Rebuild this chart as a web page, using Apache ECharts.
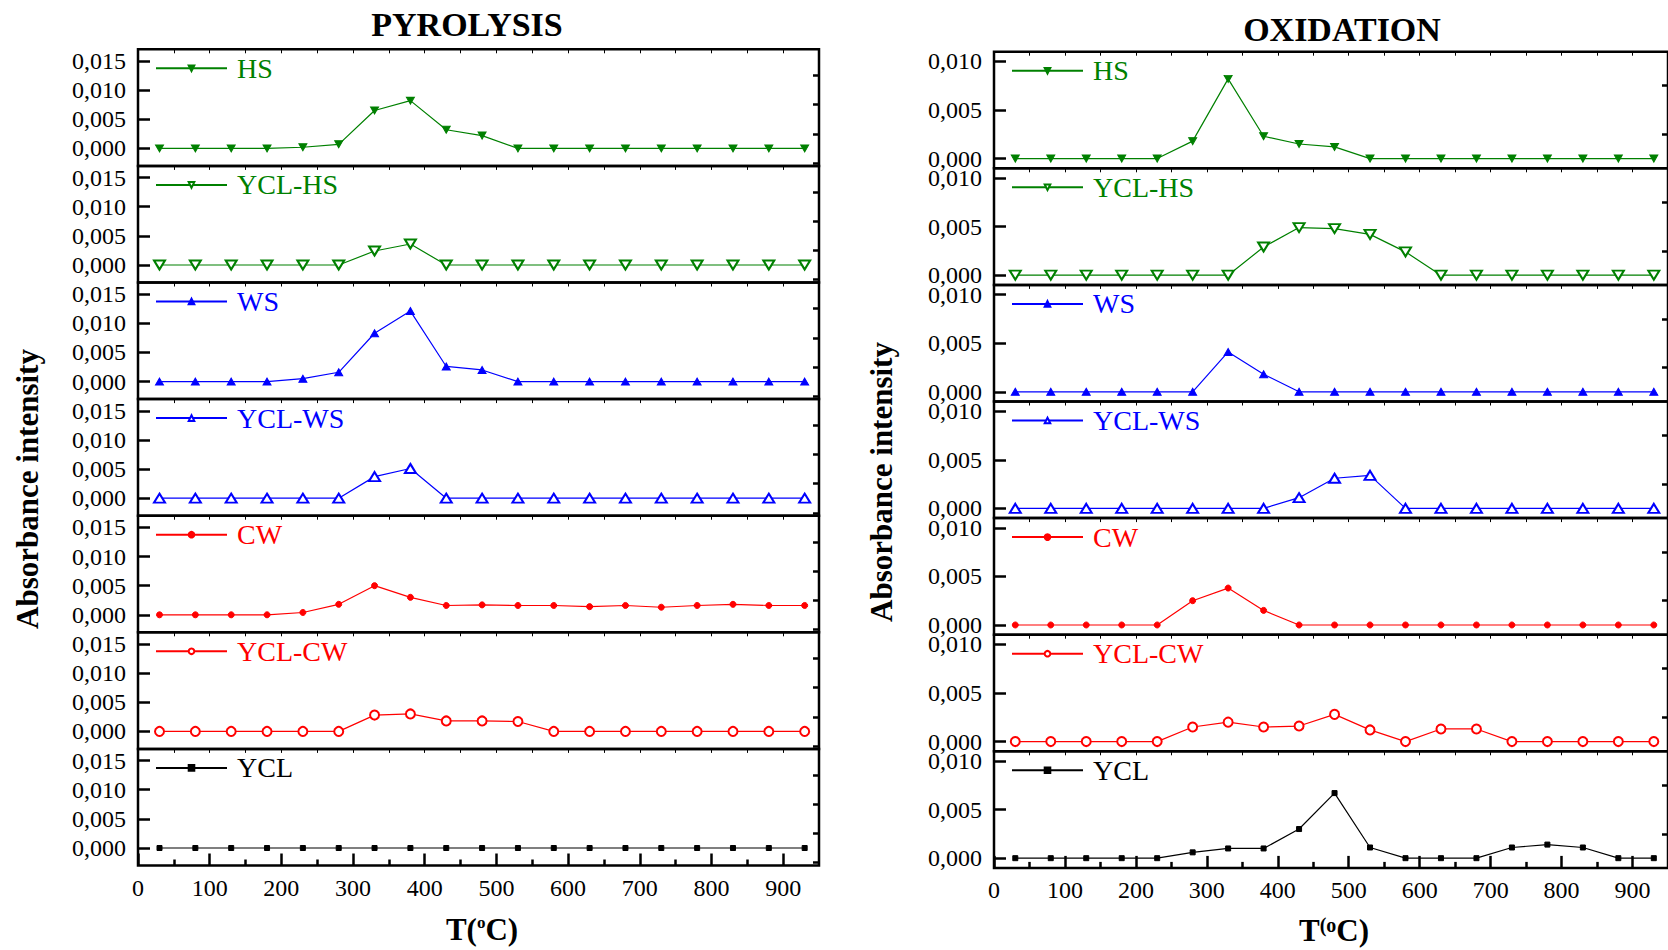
<!DOCTYPE html>
<html>
<head>
<meta charset="utf-8">
<title>Absorbance intensity - pyrolysis / oxidation</title>
<script src="https://cdn.jsdelivr.net/npm/echarts@6/dist/echarts.min.js"></script>
<style>
  html, body { margin: 0; padding: 0; background: #fff; }
  #chart { width: 1668px; height: 950px; }
</style>
</head>
<body>
<div id="chart"></div>
<script>
// temperatures (°C), same for every panel
const temps = [30, 80, 130, 180, 230, 280, 330, 380, 430, 480, 530, 580, 630, 680, 730, 780, 830, 880, 930]
const xLabelValues = [0, 100, 200, 300, 400, 500, 600, 700, 800, 900]
const pyroYLabels = [0, 0.005, 0.010, 0.015]
const oxiYLabels = [0, 0.005, 0.010]

// PYROLYSIS
const pyroHS = [0, 0, 0, 0, 0.0002, 0.0007, 0.0065, 0.0082, 0.0032, 0.0022, 0, 0, 0, 0, 0, 0, 0, 0, 0]
const pyroYclHS = [0, 0, 0, 0, 0, 0, 0.0024, 0.0036, 0, 0, 0, 0, 0, 0, 0, 0, 0, 0, 0]
const pyroWS = [0, 0, 0, 0, 0.0005, 0.0016, 0.0083, 0.0121, 0.0026, 0.0020, 0, 0, 0, 0, 0, 0, 0, 0, 0]
const pyroYclWS = [0, 0, 0, 0, 0, 0, 0.0037, 0.0051, 0, 0, 0, 0, 0, 0, 0, 0, 0, 0, 0]
const pyroCW = [0, 0, 0, 0, 0.0004, 0.0018, 0.0050, 0.0030, 0.0016, 0.0017, 0.0016, 0.0016, 0.0014, 0.0016, 0.0013, 0.0016, 0.0018, 0.0016, 0.0016]
const pyroYclCW = [0, 0, 0, 0, 0, 0, 0.0028, 0.0030, 0.0018, 0.0018, 0.0017, 0, 0, 0, 0, 0, 0, 0, 0]
const pyroYCL = [0, 0, 0, 0, 0, 0, 0, 0, 0, 0, 0, 0, 0, 0, 0, 0, 0, 0, 0]

// OXIDATION
const oxiHS = [0, 0, 0, 0, 0, 0.0018, 0.0082, 0.0023, 0.0015, 0.0012, 0, 0, 0, 0, 0, 0, 0, 0, 0]
const oxiYclHS = [0, 0, 0, 0, 0, 0, 0, 0.0029, 0.0049, 0.0048, 0.0042, 0.0024, 0, 0, 0, 0, 0, 0, 0]
const oxiWS = [0, 0, 0, 0, 0, 0, 0.0041, 0.0018, 0, 0, 0, 0, 0, 0, 0, 0, 0, 0, 0]
const oxiYclWS = [0, 0, 0, 0, 0, 0, 0, 0, 0.0011, 0.0031, 0.0034, 0, 0, 0, 0, 0, 0, 0, 0]
const oxiCW = [0, 0, 0, 0, 0, 0.0025, 0.0038, 0.0015, 0, 0, 0, 0, 0, 0, 0, 0, 0, 0, 0]
const oxiYclCW = [0, 0, 0, 0, 0, 0.0015, 0.0020, 0.0015, 0.0016, 0.0028, 0.0012, 0, 0.0013, 0.0013, 0, 0, 0, 0, 0]
const oxiYCL = [0, 0, 0, 0, 0, 0.0006, 0.0010, 0.0010, 0.0030, 0.0067, 0.0011, 0, 0, 0, 0.0011, 0.0014, 0.0011, 0, 0]

const panelNames = ['HS', 'YCL-HS', 'WS', 'YCL-WS', 'CW', 'YCL-CW', 'YCL']

// styles per panel
const panelColors = ['#008000', '#008000', '#0000ff', '#0000ff', '#ff0000', '#ff0000', '#000000']
const panelSymbols = ['triangle', 'emptyTriangle', 'triangle', 'emptyTriangle', 'circle', 'emptyCircle', 'rect']
const panelRotate = [180, 180, 0, 0, 0, 0, 0]
const panelSymbolSize = [[8, 7], [11, 9], [8, 7], [11, 9], 6, 9, 5]

const serif = '"Liberation Serif", "Times New Roman", serif'
const panelH = 116.6

const blocks = [
  {
    left: 138, width: 681, top: 49.3, min: -0.003, max: 0.017,
    labels: pyroYLabels, minor: [-0.0025, 0.0025, 0.0075, 0.0125],
    data: [pyroHS, pyroYclHS, pyroWS, pyroYclWS, pyroCW, pyroYclCW, pyroYCL]
  },
  {
    left: 994, width: 682, top: 51.7, min: -0.001, max: 0.011,
    labels: oxiYLabels, minor: [0.0025, 0.0075],
    data: [oxiHS, oxiYclHS, oxiWS, oxiYclWS, oxiCW, oxiYclCW, oxiYCL]
  }
]

const grid = []
const xAxis = []
const yAxis = []
const series = []
const legend = []

blocks.forEach((b) => {
  panelNames.forEach((name, p) => {
    const g = grid.length
    const top = b.top + p * panelH
    grid.push({
      left: b.left, width: b.width, top: top, height: panelH,
      show: true, borderColor: '#000', borderWidth: 2.5, backgroundColor: 'transparent'
    })
    // small ticks along the top edge of every panel
    const xi = xAxis.length
    xAxis.push({
      gridIndex: g, type: 'value', position: 'top', min: 0, max: 950,
      axisLine: { show: false, onZero: false }, splitLine: { show: false }, axisLabel: { show: false },
      axisTick: { inside: true, length: 4, customValues: temps.map((t) => t + 20), lineStyle: { color: '#000', width: 1 } }
    })
    if (p === panelNames.length - 1) {
      // minor ticks first so the major ones sit on top
      xAxis.push({
        gridIndex: g, type: 'value', position: 'bottom', min: 0, max: 950,
        axisLine: { show: false, onZero: false }, splitLine: { show: false }, axisLabel: { show: false },
        axisTick: { inside: true, length: 6, customValues: xLabelValues.slice(0, 9).map((v) => v + 50), lineStyle: { color: '#000', width: 2.5 } }
      })
      xAxis.push({
        gridIndex: g, type: 'value', position: 'bottom', min: 0, max: 950,
        axisLine: { show: false, onZero: false }, splitLine: { show: false },
        axisTick: { inside: true, length: 12, customValues: xLabelValues, lineStyle: { color: '#000', width: 2.5 } },
        axisLabel: { customValues: xLabelValues, margin: 10, color: '#000', fontFamily: serif, fontSize: 24 }
      })
    }
    const yi = yAxis.length
    yAxis.push({
      gridIndex: g, type: 'value', min: b.min, max: b.max,
      axisLine: { show: false, onZero: false }, splitLine: { show: false },
      axisTick: { inside: true, length: 12, customValues: b.labels, lineStyle: { color: '#000', width: 2.5 } },
      axisLabel: {
        customValues: b.labels, margin: 12, color: '#000', fontFamily: serif, fontSize: 24,
        formatter: (v) => v.toFixed(3).replace('.', ',')
      }
    })
    yAxis.push({
      gridIndex: g, type: 'value', min: b.min, max: b.max,
      axisLine: { show: false, onZero: false }, splitLine: { show: false }, axisLabel: { show: false },
      axisTick: { inside: true, length: 6, customValues: b.minor, lineStyle: { color: '#000', width: 2.5 } }
    })
    const c = panelColors[p]
    series.push({
      type: 'line', name: name, xAxisIndex: xi, yAxisIndex: yi,
      data: temps.map((t, i) => [t, b.data[p][i]]),
      symbol: panelSymbols[p], symbolSize: panelSymbolSize[p], symbolRotate: panelRotate[p],
      itemStyle: { color: c, borderColor: c, borderWidth: 1 },
      lineStyle: { color: c, width: 1.2 },
      animation: false
    })
    legend.push({
      data: [name], left: b.left + 17, top: top + 5, padding: 0,
      itemWidth: 71, itemHeight: 7, selectedMode: false,
      textStyle: { color: c, fontFamily: serif, fontSize: 28, padding: [0, 0, 0, 5] }
    })
  })
})

const chartBox = echarts.init(document.getElementById('chart'), null, { renderer: 'svg' })
const option = {
  backgroundColor: '#fff',
  animation: false,
  title: [
    { text: 'PYROLYSIS', left: 467, top: 7, padding: 0, textAlign: 'center',
      textStyle: { fontFamily: serif, fontWeight: 'bold', fontSize: 34, color: '#000' } },
    { text: 'OXIDATION', left: 1342, top: 12, padding: 0, textAlign: 'center',
      textStyle: { fontFamily: serif, fontWeight: 'bold', fontSize: 34, color: '#000' } },
    { text: 'T({sup|o}C)', left: 482, top: 914, padding: 0, textAlign: 'center',
      textStyle: { fontFamily: serif, fontWeight: 'bold', fontSize: 31, color: '#000',
        rich: { sup: { fontFamily: serif, fontWeight: 'bold', fontSize: 17, verticalAlign: 'top', color: '#000' } } } },
    { text: 'T{sup|(o}C)', left: 1334, top: 915, padding: 0, textAlign: 'center',
      textStyle: { fontFamily: serif, fontWeight: 'bold', fontSize: 31, color: '#000',
        rich: { sup: { fontFamily: serif, fontWeight: 'bold', fontSize: 20, verticalAlign: 'top', color: '#000' } } } }
  ],
  graphic: [
    { type: 'text', x: 27, y: 489, rotation: Math.PI / 2,
      style: { text: 'Absorbance intensity', fill: '#000', fontFamily: serif, fontWeight: 'bold', fontSize: 31,
        align: 'center', verticalAlign: 'middle', textAlign: 'center', textVerticalAlign: 'middle' } },
    { type: 'text', x: 881, y: 482, rotation: Math.PI / 2,
      style: { text: 'Absorbance intensity', fill: '#000', fontFamily: serif, fontWeight: 'bold', fontSize: 31,
        align: 'center', verticalAlign: 'middle', textAlign: 'center', textVerticalAlign: 'middle' } }
  ],
  legend: legend,
  grid: grid,
  xAxis: xAxis,
  yAxis: yAxis,
  series: series
}
chartBox.setOption(option, true)
window.addEventListener('resize', function () {
  chartBox.resize()
})
</script>
</body>
</html>
